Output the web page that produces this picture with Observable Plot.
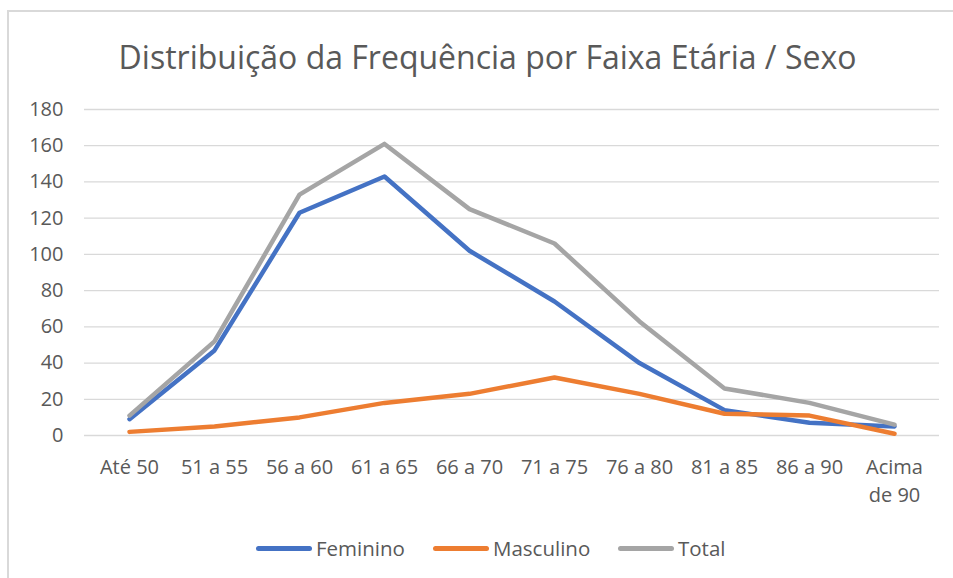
<!DOCTYPE html>
<html>
<head>
<meta charset="utf-8">
<script src="https://cdn.jsdelivr.net/npm/d3@7"></script>
<script src="https://cdn.jsdelivr.net/npm/@observablehq/plot@0.6"></script>
<style>
  html, body { margin: 0; padding: 0; background: #fff; }
  #wrap { position: relative; width: 953px; height: 578px; overflow: hidden; font-family: "Open Sans", sans-serif; }
  #frame { position: absolute; left: 7px; top: 10px; width: 1000px; height: 700px; border: 2px solid #d9d9d9; box-sizing: border-box; }
  #title { position: absolute; left: 0; width: 975px; top: 35px; text-align: center; font-size: 32px; color: #595959; white-space: nowrap; }
  #chart { position: absolute; left: 0; top: 0; }
  #legend { position: absolute; top: 535px; left: 0; width: 953px; height: 26px; }
  .item { position: absolute; top: 0; display: flex; align-items: center; font-size: 20.5px; color: #595959; height: 26px; }
  .sw { width: 56px; height: 5px; border-radius: 3px; margin-right: 4px; }
</style>
</head>
<body>
<div id="wrap">
  <div id="frame"></div>
  <div id="chart"></div>
  <div id="title">Distribuição da Frequência por Faixa Etária / Sexo</div>
  <div id="legend"></div>
</div>
<script>
const categorias = ["Até 50","51 a 55","56 a 60","61 a 65","66 a 70","71 a 75","76 a 80","81 a 85","86 a 90","Acima de 90"];
const feminino  = [9, 47, 123, 143, 102, 74, 40, 14, 7, 5];
const masculino = [2, 5, 10, 18, 23, 32, 23, 12, 11, 1];
const total     = [11, 52, 133, 161, 125, 106, 63, 26, 18, 6];
const series = ["Feminino", "Masculino", "Total"];
const cores = ["#4472C4", "#ED7D31", "#A5A5A5"];
const yTicks = [0, 20, 40, 60, 80, 100, 120, 140, 160, 180];

const valores = [feminino, masculino, total];
const rows = [];
series.forEach((s, si) => categorias.forEach((c, i) => rows.push({serie: s, cat: c, v: valores[si][i]})));

const chart = Plot.plot({
  width: 953,
  height: 578,
  marginTop: 109,
  marginBottom: 143,
  marginLeft: 84,
  marginRight: 14,
  style: {fontFamily: "'Open Sans', sans-serif", fontSize: "20px", color: "#595959", background: "transparent"},
  x: {type: "point", domain: categorias, padding: 0.5},
  y: {domain: [0, 180]},
  color: {domain: series, range: cores},
  marks: [
    Plot.ruleY(yTicks, {stroke: "#d9d9d9", strokeWidth: 1.3}),
    Plot.axisY(yTicks, {tickSize: 0, tickPadding: 21, label: null, fill: "#595959", fontSize: 20}),
    Plot.axisX({tickSize: 0, tickPadding: 18, label: null, fill: "#595959", fontSize: 20,
      tickFormat: d => d === "Acima de 90" ? "Acima\nde 90" : d, lineHeight: 1.42}),
    Plot.line(rows, {x: "cat", y: "v", z: "serie", stroke: "serie", strokeWidth: 4.5,
      strokeLinecap: "round", strokeLinejoin: "round"})
  ]
});
document.getElementById("chart").appendChild(chart);

const legend = document.getElementById("legend");
const lefts = [256, 433, 618];
series.forEach((s, i) => {
  const it = document.createElement("div");
  it.className = "item";
  it.style.left = lefts[i] + "px";
  const sw = document.createElement("div");
  sw.className = "sw";
  sw.style.background = cores[i];
  it.appendChild(sw);
  const t = document.createElement("span");
  t.textContent = s;
  it.appendChild(t);
  legend.appendChild(it);
});
</script>
</body>
</html>
